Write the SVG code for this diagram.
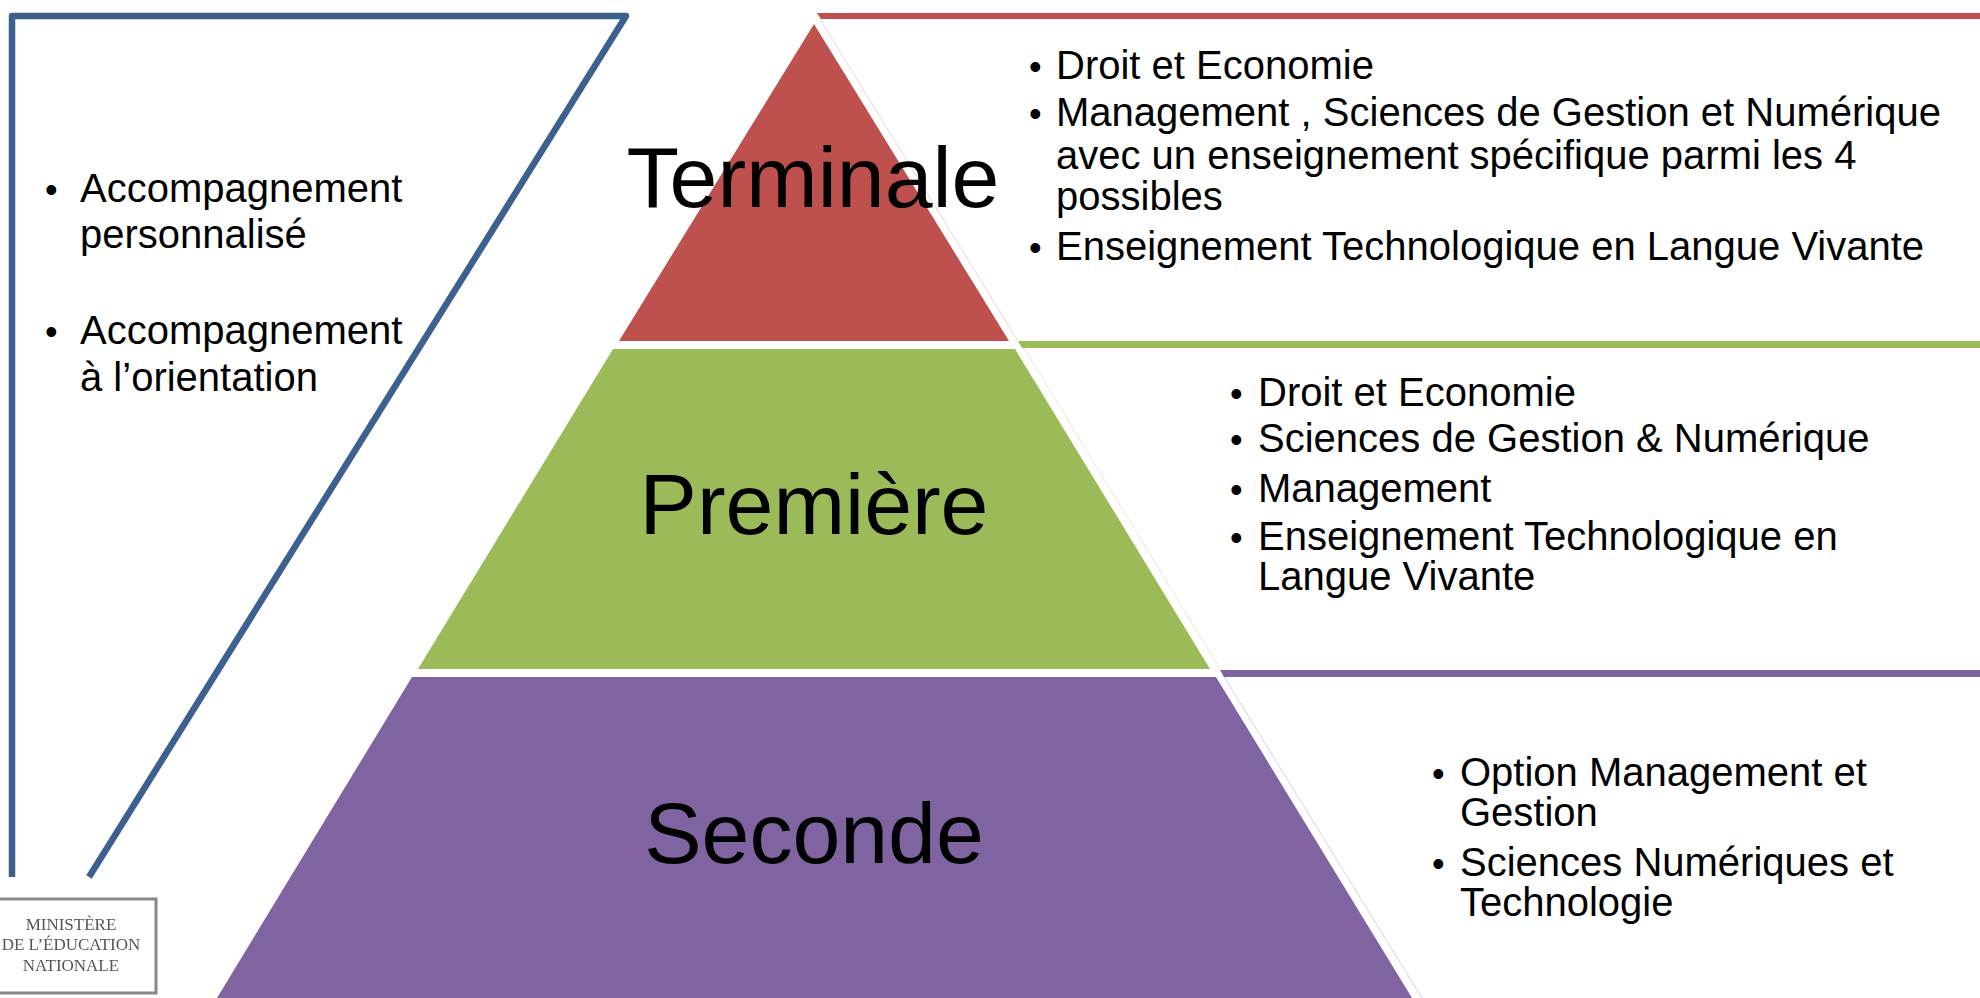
<svg xmlns="http://www.w3.org/2000/svg" width="1980" height="998" viewBox="0 0 1980 998">
<style>
text{font-family:"Liberation Sans",Arial,sans-serif;fill:#000}
.b{font-size:40px}
.d{font-size:36px}
.t{font-size:86px;text-anchor:middle}
.l{font-family:"Liberation Serif","Times New Roman",serif;font-size:17px;fill:#555;text-anchor:middle}
.f{fill:none;stroke-width:1}
</style>
<defs><filter id="soft" x="-5%" y="-5%" width="110%" height="110%"><feGaussianBlur stdDeviation="0.6"/></filter></defs>
<rect width="1980" height="998" fill="#fff"/>
<g id="side-panel">
<path d="M12,877V16H626L89,877" fill="none" stroke="#3c6190" stroke-width="6.5" stroke-linejoin="round"/>
<text class="d" x="45" y="202">•</text><text class="b" x="80" y="202">Accompagnement</text>
<text class="b" x="80" y="248">personnalisé</text>
<text class="d" x="45" y="344">•</text><text class="b" x="80" y="344">Accompagnement</text>
<text class="b" x="80" y="391">à l’orientation</text>
</g>
<g id="logo" filter="url(#soft)">
<rect x="-2" y="899" width="158" height="94" fill="#fff" stroke="#888" stroke-width="3"/>
<text class="l" x="71" y="930">MINISTÈRE</text>
<text class="l" x="71" y="950">DE L’ÉDUCATION</text>
<text class="l" x="71" y="971">NATIONALE</text>
</g>
<g id="terminale">
<path d="M817,13H1980V19H821Z" fill="#be504d"/>
<path d="M818,16L1018,341" class="f" stroke="#be504d" stroke-opacity=".25"/>
<path d="M814,24L1009,341H619Z" fill="#be504d"/>
<text class="t" x="813" y="207">Terminale</text>
<text class="d" x="1029" y="79">•</text><text class="b" x="1056" y="79">Droit et Economie</text>
<text class="d" x="1029" y="126">•</text><text class="b" x="1056" y="126">Management , Sciences de Gestion et Numérique</text>
<text class="b" x="1056" y="169">avec un enseignement spécifique parmi les 4</text>
<text class="b" x="1056" y="210">possibles</text>
<text class="d" x="1029" y="260">•</text><text class="b" x="1056" y="260">Enseignement Technologique en Langue Vivante</text>
</g>
<g id="premiere">
<path d="M1018,341H1980V348H1022Z" fill="#9bbb59"/>
<path d="M1022,345L1220,669" class="f" stroke="#9bbb59" stroke-opacity=".3"/>
<path d="M613,349H1015L1210,669H418Z" fill="#9bbb59"/>
<text class="t" x="814" y="534">Première</text>
<text class="d" x="1230" y="406">•</text><text class="b" x="1258" y="406">Droit et Economie</text>
<text class="d" x="1230" y="452">•</text><text class="b" x="1258" y="452">Sciences de Gestion &amp; Numérique</text>
<text class="d" x="1230" y="502">•</text><text class="b" x="1258" y="502">Management</text>
<text class="d" x="1230" y="550">•</text><text class="b" x="1258" y="550">Enseignement Technologique en</text>
<text class="b" x="1258" y="590">Langue Vivante</text>
</g>
<g id="seconde">
<path d="M1220,670H1980V677H1224Z" fill="#8064a2"/>
<path d="M1223,675L1422,998" class="f" stroke="#8064a2" stroke-opacity=".3"/>
<path d="M412,677H1216L1412,998H217Z" fill="#8064a2"/>
<text class="t" x="814" y="863">Seconde</text>
<text class="d" x="1432" y="786">•</text><text class="b" x="1460" y="786">Option Management et</text>
<text class="b" x="1460" y="826">Gestion</text>
<text class="d" x="1432" y="876">•</text><text class="b" x="1460" y="876">Sciences Numériques et</text>
<text class="b" x="1460" y="916">Technologie</text>
</g>
<g id="connectors"/>
</svg>
